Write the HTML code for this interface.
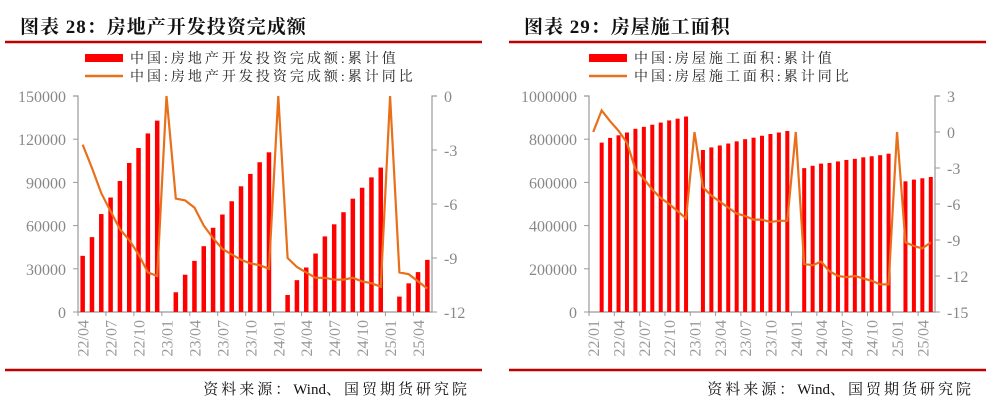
<!DOCTYPE html>
<html><head><meta charset="utf-8"><style>
body{margin:0;background:#fff;width:991px;height:401px;overflow:hidden;font-family:"Liberation Serif","Noto Serif CJK SC",serif}
svg{position:absolute;left:0;top:0}
</style></head><body>
<svg id="s" width="991" height="401"></svg>
<script>
const catsA=[];(function(){for(let y=22;y<=25;y++)for(let m=1;m<=12;m++){if(y==22&&m<4)continue;if(y==25&&m>5)continue;catsA.push(y+'/'+String(m).padStart(2,'0'));}})();
const barsA=[39000,52000,68000,79500,91000,103500,113900,124000,132900,null,13700,25900,35500,45700,58500,67700,76900,87300,95900,104000,110900,null,11800,22100,30900,40600,52500,60900,69300,78700,86300,93500,100300,null,10700,19900,27700,36200];
const lineA=[-2.7,-4.0,-5.4,-6.4,-7.4,-8.0,-8.8,-9.8,-10.0,0,-5.7,-5.8,-6.2,-7.2,-7.9,-8.5,-8.8,-9.1,-9.3,-9.4,-9.6,0,-9.0,-9.5,-9.8,-10.1,-10.1,-10.2,-10.2,-10.1,-10.3,-10.4,-10.6,0,-9.8,-9.9,-10.3,-10.7];
const leftTicksA=['0','30000','60000','90000','120000','150000'];
const rightTicksA=['-12','-9','-6','-3','0'];
const catsB=[];(function(){for(let y=22;y<=25;y++)for(let m=1;m<=12;m++){if(y==25&&m>5)continue;catsB.push(y+'/'+String(m).padStart(2,'0'));}})();
const barsB=[null,784000,806000,818000,831000,848000,857000,867000,877000,887000,895000,905000,null,750000,762000,771000,780000,790000,800000,807000,816000,824000,831000,838000,null,666000,677000,687000,690000,697000,704000,709000,716000,721000,726000,733000,null,605000,613000,619000,625000];
const lineB=[0,1.8,0.9,0.1,-0.9,-3.1,-3.9,-4.8,-5.5,-6.0,-6.6,-7.2,0,-4.6,-5.3,-5.8,-6.3,-6.8,-7.0,-7.3,-7.3,-7.5,-7.4,-7.4,0,-11.0,-11.1,-10.8,-11.6,-12.0,-12.1,-12.0,-12.2,-12.4,-12.7,-12.7,0,-9.2,-9.5,-9.7,-9.2];
const leftTicksB=['0','200000','400000','600000','800000','1000000'];
const rightTicksB=['-15','-12','-9','-6','-3','0','3'];
const svg=document.getElementById('s');const NS='http://www.w3.org/2000/svg';
function mk(t,a,p){const e=document.createElementNS(NS,t);for(const k in a)e.setAttribute(k,a[k]);(p||svg).appendChild(e);return e;}
function txt(x,y,s,a,p){const e=mk('text',Object.assign({x:x,y:y},a),p);e.textContent=s;return e;}
function chart(o){
 const g=mk('g',{});
 let t=txt(o.ox+15,33,o.title,{'font-size':19,'font-weight':'bold',fill:'#111','letter-spacing':1},g);
 mk('line',{x1:o.ox,x2:o.ox+477,y1:42,y2:42,stroke:'#c00000','stroke-width':2.5},g);
 mk('line',{x1:o.ox,x2:o.ox+477,y1:370,y2:370,stroke:'#c00000','stroke-width':2.5},g);
 t=mk('text',{x:o.ox+465,y:394,'font-size':15,'text-anchor':'end',fill:'#111'},g);
 mk('tspan',{'letter-spacing':3},t).textContent='资料来源：';
 mk('tspan',{},t).textContent='Wind';
 mk('tspan',{'letter-spacing':3},t).textContent='、国贸期货研究院';
 const lg=mk('g',{},g);
 mk('rect',{x:o.lx,y:54,width:38,height:8,fill:'#ff0000'},lg);
 txt(o.lx+45,63,o.leg1,{'font-size':14,fill:'#222','letter-spacing':3},lg);
 mk('line',{x1:o.lx,x2:o.lx+38,y1:76,y2:76,stroke:'#e8701a','stroke-width':2.5},lg);
 txt(o.lx+45,81,o.leg2,{'font-size':14,fill:'#222','letter-spacing':3},lg);
 const x0=o.x0,x1=o.x1,yT=96,yB=312,n=o.cats.length,step=(x1-x0)/n;
 const xs=i=>x0+step*(i+0.5);
 const yl=v=>yB-(v-o.lmin)/(o.lmax-o.lmin)*(yB-yT);
 const yr=v=>yB-(v-o.rmin)/(o.rmax-o.rmin)*(yB-yT);
 mk('path',{d:`M${x0-5},${yT}H${x0}V${yB}H${x1}V${yT}H${x1+5}`,fill:'none',stroke:'#999','stroke-width':1.2},g);
 o.lt.forEach((s,i)=>{const v=o.lmin+i*(o.lmax-o.lmin)/(o.lt.length-1);const y=yl(v);
  mk('line',{x1:x0-5,x2:x0,y1:y,y2:y,stroke:'#999'},g);
  const e=txt(x0-12,y+6,s,{'font-size':16,fill:'#888','text-anchor':'end'},g);});
 o.rt.forEach((s,i)=>{const v=o.rmin+i*(o.rmax-o.rmin)/(o.rt.length-1);const y=yr(v);
  mk('line',{x1:x1,x2:x1+5,y1:y,y2:y,stroke:'#999'},g);
  const e=txt(x1+12,y+6,s,{'font-size':16,fill:'#888'},g);});
 o.cats.forEach((c,i)=>{const x=xs(i);if(i%3==o.lab){mk('line',{x1:x0+step*i,x2:x0+step*i,y1:yB,y2:yB+4,stroke:'#999'},g);
  const e=txt(0,0,c,{'font-size':16,fill:'#999','text-anchor':'end',transform:`translate(${x+6},${yB+8}) rotate(-90)`},g);}});
 o.bars.forEach((v,i)=>{if(v==null)return;const r=mk('rect',{x:xs(i)-o.bw/2,y:yl(v),width:o.bw,height:yB-yl(v),fill:'#ff0000'},g);
  });
 const p=mk('polyline',{points:o.line.map((v,i)=>xs(i)+','+yr(v)).join(' '),fill:'none',stroke:'#e8701a','stroke-width':2.2},g);
 
}
chart({name:'chart-28',ox:5,title:'图表 28：房地产开发投资完成额',lx:85,leg1:'中国:房地产开发投资完成额:累计值',leg2:'中国:房地产开发投资完成额:累计同比',x0:78,x1:432,cats:catsA,bars:barsA,line:lineA,lmin:0,lmax:150000,rmin:-12,rmax:0,lt:leftTicksA,rt:rightTicksA,bw:4.5,lab:0});
chart({name:'chart-29',ox:509,title:'图表 29：房屋施工面积',lx:589,leg1:'中国:房屋施工面积:累计值',leg2:'中国:房屋施工面积:累计同比',x0:589,x1:935,cats:catsB,bars:barsB,line:lineB,lmin:0,lmax:1000000,rmin:-15,rmax:3,lt:leftTicksB,rt:rightTicksB,bw:4,lab:0});
</script></body></html>
